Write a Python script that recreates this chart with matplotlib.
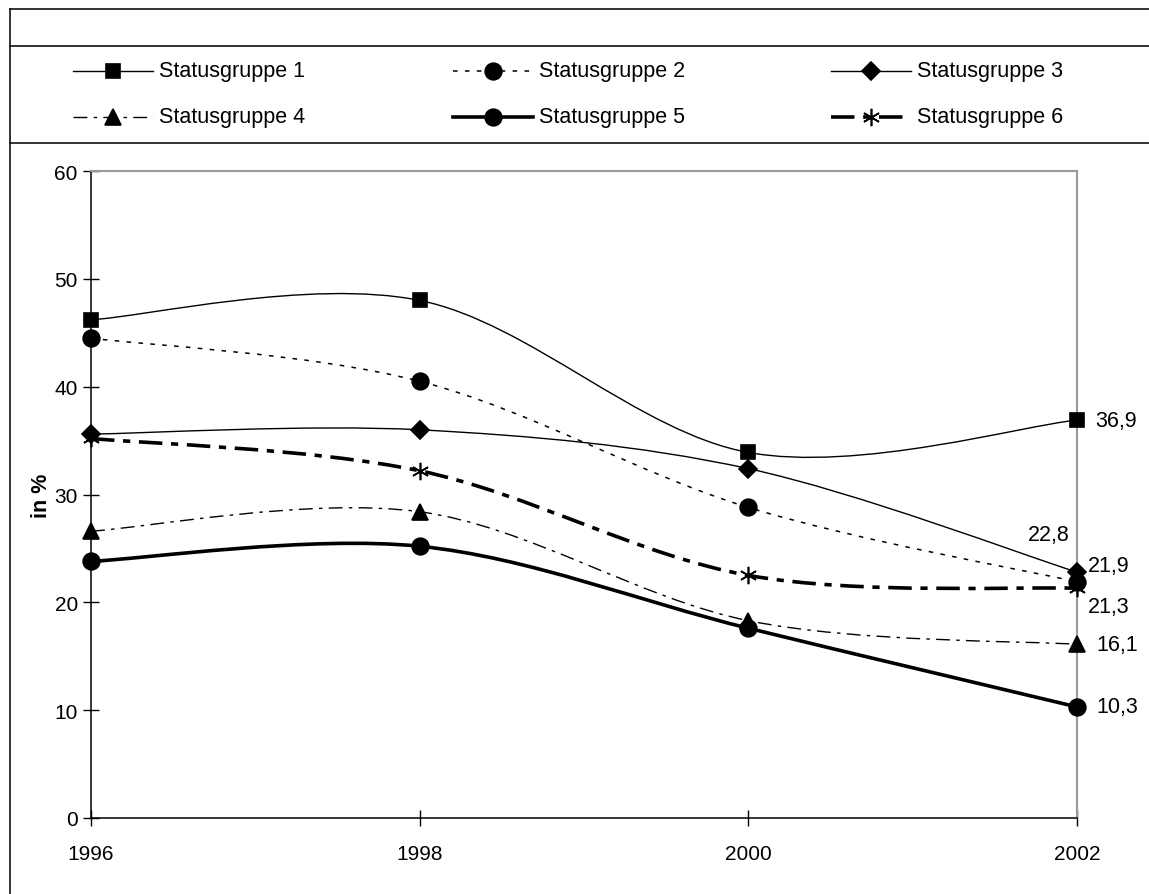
import matplotlib
matplotlib.use("Agg")
import matplotlib.pyplot as plt
from matplotlib.path import Path
from matplotlib.patches import PathPatch
from matplotlib.lines import Line2D

plt.rcParams['font.family'] = ['Liberation Sans', 'DejaVu Sans']

# --- data -------------------------------------------------------------
years = [1996, 1998, 2000, 2002]
series_names = ["Statusgruppe 1", "Statusgruppe 2", "Statusgruppe 3",
                "Statusgruppe 4", "Statusgruppe 5", "Statusgruppe 6"]
gruppe1 = [46.2, 48.0, 33.9, 36.9]
gruppe2 = [44.5, 40.5, 28.8, 21.9]
gruppe3 = [35.6, 36.0, 32.4, 22.8]
gruppe4 = [26.6, 28.4, 18.3, 16.1]
gruppe5 = [23.8, 25.2, 17.6, 10.3]
gruppe6 = [35.2, 32.2, 22.5, 21.3]
y_ticks = [0, 10, 20, 30, 40, 50, 60]

values = [gruppe1, gruppe2, gruppe3, gruppe4, gruppe5, gruppe6]

# --- styles -----------------------------------------------------------
styles = [
    dict(lw=1.0, ls='-', marker='s', ms=10.5),
    dict(lw=1.1, ls=(0, (3.0, 4.8)), marker='o', ms=12),
    dict(lw=1.0, ls='-', marker='D', ms=9.5),
    dict(lw=1.0, ls=(0, (10, 4.5, 2.5, 4.5)), marker='^', ms=11),
    dict(lw=2.6, ls='-', marker='o', ms=12),
    dict(lw=2.6, ls=(0, (6.5, 2.4, 2.0, 2.4)), marker=(6, 2, 0), ms=12.5),
]

FS_TEXT = 15.5
FS_TICK = 15

W, H, DPI = 1149, 895, 100
fig = plt.figure(figsize=(W / DPI, H / DPI), dpi=DPI)
ax = fig.add_axes([91 / W, 1 - 819 / H, (1077 - 91) / W, (819 - 172) / H])


def smooth_path(xs, ys):
    """Cubic Bezier path through the points (Catmull-Rom style tangents)."""
    n = len(xs)
    verts = [(xs[0], ys[0])]
    codes = [Path.MOVETO]
    for i in range(n - 1):
        p0 = (xs[max(i - 1, 0)], ys[max(i - 1, 0)])
        p1 = (xs[i], ys[i])
        p2 = (xs[i + 1], ys[i + 1])
        p3 = (xs[min(i + 2, n - 1)], ys[min(i + 2, n - 1)])
        c1 = (p1[0] + (p2[0] - p0[0]) / 6, p1[1] + (p2[1] - p0[1]) / 6)
        c2 = (p2[0] - (p3[0] - p1[0]) / 6, p2[1] - (p3[1] - p1[1]) / 6)
        verts += [c1, c2, p2]
        codes += [Path.CURVE4] * 3
    return Path(verts, codes)


for vals, st in zip(values, styles):
    patch = PathPatch(smooth_path(years, vals), fill=False, edgecolor='black',
                      lw=st['lw'], linestyle=st['ls'], capstyle='butt',
                      joinstyle='round', zorder=3)
    ax.add_patch(patch)
    ax.plot(years, vals, ls='none', marker=st['marker'], ms=st['ms'],
            color='black', mec='black', mew=1.2, zorder=4, clip_on=False)

# value labels for the last year
label_offsets = [(13, 0, 'left'), (8, 11.5, 'left'), (-20, 27, 'center'),
                 (14, 0, 'left'), (14, 0, 'left'), (8, -13, 'left')]
for vals, (dx, dy, ha) in zip(values, label_offsets):
    ax.annotate(f"{vals[-1]:.1f}".replace('.', ','), (years[-1], vals[-1]),
                xytext=(dx, dy), textcoords='offset points', ha=ha,
                va='center', fontsize=FS_TEXT, zorder=5, annotation_clip=False)

ax.set_xlim(years[0], years[-1])
ax.set_ylim(y_ticks[0], y_ticks[-1])
ax.set_xticks(years)
ax.set_xticklabels([str(y) for y in years])
ax.set_yticks(y_ticks)
ax.tick_params(direction='inout', length=11, width=1, labelsize=FS_TICK,
               color='black')
ax.tick_params(axis='x', pad=13)
ax.tick_params(axis='y', pad=4)
for side in ('left', 'bottom'):
    ax.spines[side].set_color('black')
    ax.spines[side].set_linewidth(1.1)
for side in ('top', 'right'):
    ax.spines[side].set_color('#9a9a9a')
    ax.spines[side].set_linewidth(1.5)
ax.set_ylabel("in %", fontsize=FS_TEXT, fontweight='bold', labelpad=2)

# --- outer frame and legend box ---------------------------------------
def fx(px):
    return px / W


def fy(py):
    return 1 - py / H


frame_kw = dict(transform=fig.transFigure, color='#111111', lw=1.2)
fig.add_artist(Line2D([fx(9.5), fx(9.5)], [fy(10), fy(H)], **frame_kw))
fig.add_artist(Line2D([fx(9.5), 1], [fy(10), fy(10)], **frame_kw))
fig.add_artist(Line2D([fx(9.5), 1], [fy(47), fy(47)], **frame_kw))
fig.add_artist(Line2D([fx(9.5), 1], [fy(144), fy(144)], **frame_kw))

legend_cols = [73, 453, 831]
legend_rows = [72, 118]
for idx, (name, st) in enumerate(zip(series_names, styles)):
    row, col = divmod(idx, 3)
    x0 = legend_cols[col]
    y = fy(legend_rows[row])
    fig.add_artist(Line2D([fx(x0), fx(x0 + 40), fx(x0 + 80)], [y, y, y],
                          transform=fig.transFigure, color='black',
                          lw=st['lw'], ls=st['ls'], marker=st['marker'],
                          ms=st['ms'], markevery=[1], mew=1.2,
                          dash_capstyle='butt'))
    fig.text(fx(x0 + 86), y, name, fontsize=FS_TEXT, va='center', ha='left')

fig.savefig("out.png", dpi=DPI)
